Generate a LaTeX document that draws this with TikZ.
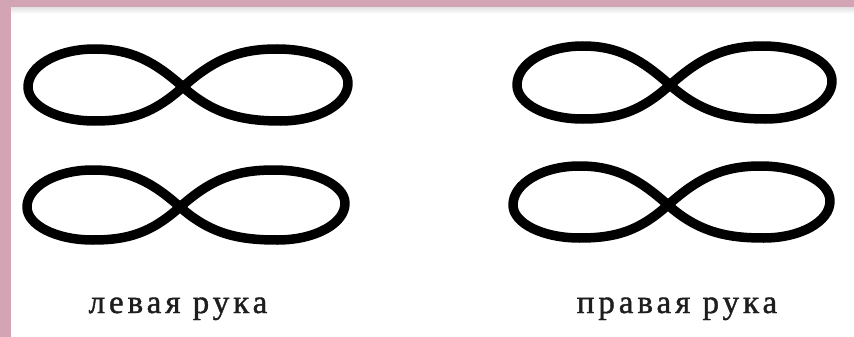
\documentclass[tikz,border=0pt]{standalone}
\usepackage{fontspec}
\newfontfamily\labelfont[LetterSpace=12,FakeBold=1.2]{Liberation Serif}
\definecolor{framepink}{RGB}{210,164,180}
\definecolor{textgray}{RGB}{30,30,30}
\tikzset{
  loopline/.style={line width=9.5pt, line cap=round, line join=round, black},
  handlabel/.style={font=\labelfont\fontsize{33}{33}\selectfont, text=textgray, anchor=base, inner sep=0pt}
}
\newcommand\figeight[6]{%
  \begin{scope}[shift={(#1,#2)}]
  \draw[loopline] (0,0)
   .. controls ({0.19*#4},{-0.17*#4}) and ({0.34*#4},{-#5}) .. ({0.57*#4},{-#5})
   .. controls ({0.81*#4},{-#5}) and ({#4},{-0.6*#5}) .. ({#4},{-0.1*#5})
   .. controls ({#4},{0.5*#6}) and ({0.82*#4},{#6}) .. ({0.59*#4},{#6})
   .. controls ({0.37*#4},{#6}) and ({0.19*#4},{0.17*#4}) .. (0,0)
   .. controls ({-0.19*#3},{-0.17*#3}) and ({-0.34*#3},{-#5}) .. ({-0.57*#3},{-#5})
   .. controls ({-0.81*#3},{-#5}) and ({-#3},{-0.55*#5}) .. ({-#3},{0})
   .. controls ({-#3},{0.55*#6}) and ({-0.81*#3},{#6}) .. ({-0.57*#3},{#6})
   .. controls ({-0.34*#3},{#6}) and ({-0.19*#3},{0.17*#3}) .. (0,0);
  \end{scope}}
\begin{document}
\begin{tikzpicture}[x=1pt,y=-1pt]
\useasboundingbox (0,0) rectangle (854,337);
\fill[white] (0,0) rectangle (854,337);
\fill[framepink] (0,0) rectangle (854,8);
\fill[framepink] (0,0) rectangle (11,337);
\shade[top color=black!10, bottom color=white] (11,8) rectangle (854,14);
\figeight{183}{87}{155}{165}{38}{34}
\figeight{180}{207}{153}{165}{37}{33}
\figeight{670}{85}{153}{162}{39}{34}
\figeight{668}{205}{155}{162}{39}{33}
\node[handlabel] (lefthand) at (178,313) {левая рука};
\node[handlabel] (righthand) at (677,313) {правая рука};
\end{tikzpicture}
\end{document}
